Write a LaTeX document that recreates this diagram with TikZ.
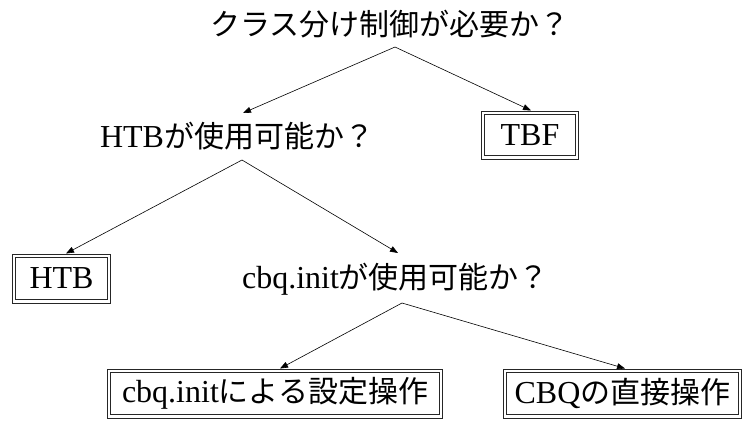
\documentclass[tikz,border=0pt]{standalone}
\usepackage{fontspec}
\setmainfont{Liberation Serif}
\newfontfamily\cjk{Noto Sans CJK JP}
\usetikzlibrary{arrows.meta}
\newcommand\jtext[1]{{\fontsize{30}{36}\cjk #1}}
\begin{document}
\begin{tikzpicture}[x=1pt,y=-1pt,
  every node/.style={font=\fontsize{32}{38}\selectfont},
  question/.style={anchor=base,inner sep=0pt},
  answer/.style={draw=black!85,line width=1pt,outer sep=0.5pt,inner sep=0pt,
    minimum height=48pt},
  innerframe/.style={draw=black!85,line width=0.9pt},
  arr/.style={line width=0.6pt,-{Triangle[length=8pt,width=6pt]}}]
\useasboundingbox (0,0) rectangle (744,421);
% questions
\node[question] (q1) at (390,35) {\jtext{クラス分け制御が必要か？}};
\node[question] (q2) at (237,147) {HTB\jtext{が使用可能か？}};
\node[question] (q3) at (395.5,288) {cbq.init\jtext{が使用可能か？}};
% answers
\node[answer,minimum width=97pt] (tbf) at (530,135) {TBF};
\node[answer,minimum width=98pt,minimum height=49pt] (htb) at (61.5,278.5) {HTB};
\node[answer,minimum width=335pt,minimum height=49pt] (cbqi) at (275,393.5) {cbq.init\jtext{による設定操作}};
\node[answer,minimum width=238pt,minimum height=49pt] (cbq) at (622.5,393.5) {CBQ\jtext{の直接操作}};
\foreach \n in {tbf,htb,cbqi,cbq}
  \draw[innerframe] ([shift={(3.7pt,-3.7pt)}]\n.north west) rectangle ([shift={(-3.7pt,3.7pt)}]\n.south east);
% connectors
\draw[arr] ([shift={(5pt,-12pt)}]q1.base) -- ([shift={(6pt,34pt)}]q2.base);
\draw[arr] ([shift={(5pt,-12pt)}]q1.base) -- ([xshift=1pt]tbf.north);
\draw[arr] ([shift={(5pt,-13pt)}]q2.base) -- ([xshift=4.5pt]htb.north);
\draw[arr] ([shift={(5pt,-13pt)}]q2.base) -- ([shift={(2.5pt,35pt)}]q3.base);
\draw[arr] ([shift={(6.5pt,-15pt)}]q3.base) -- ([xshift=5pt]cbqi.north);
\draw[arr] ([shift={(6.5pt,-15pt)}]q3.base) -- ([xshift=2.5pt]cbq.north);
\end{tikzpicture}
\end{document}
